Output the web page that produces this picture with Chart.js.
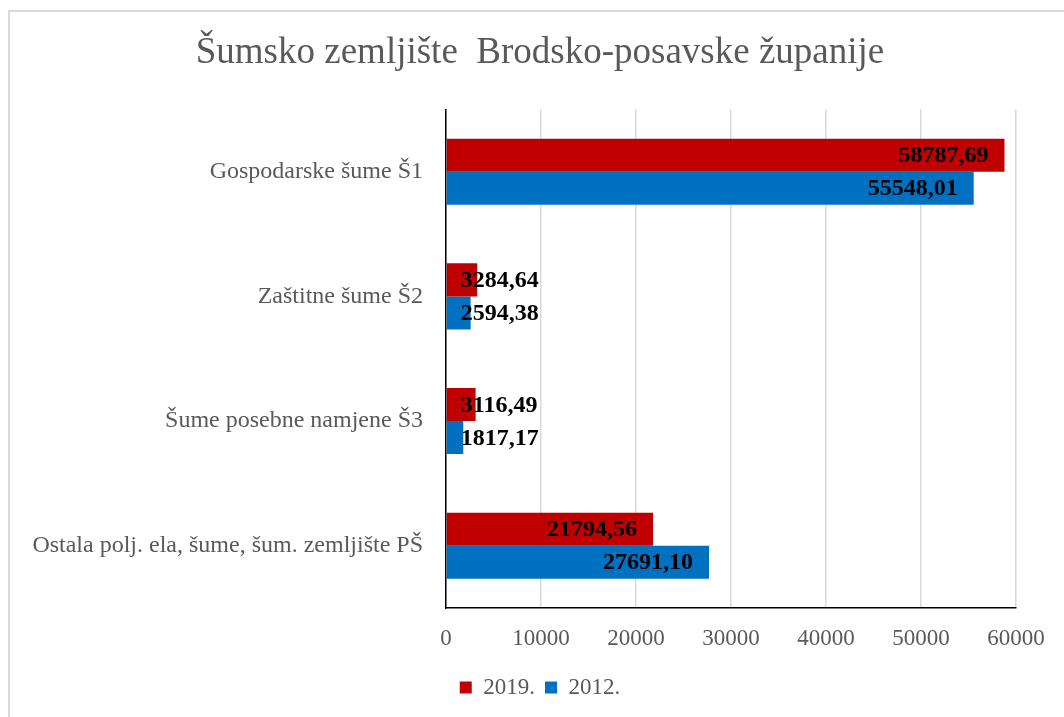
<!DOCTYPE html>
<html>
<head>
<meta charset="utf-8">
<script src="https://cdn.jsdelivr.net/npm/chart.js@4"></script>
<style>
    html, body { margin: 0; padding: 0; background: #fff; overflow: hidden; }
    .frame {
        position: absolute; left: 8px; top: 10px;
        width: 1100px; height: 760px;
        border: 2px solid #d9d9d9;
    }
    .chart-box { position: absolute; left: 0; top: 0; width: 1064px; height: 717px; }
</style>
</head>
<body>
<div class="frame"></div>
<div class="chart-box"><canvas id="forestChart" width="1064" height="717"></canvas></div>
<script>
// kategorije i vrijednosti (ha)
const categories = [
    'Gospodarske šume Š1',
    'Zaštitne šume Š2',
    'Šume posebne namjene Š3',
    'Ostala polj. ela, šume, šum. zemljište PŠ'
];
const values2019 = [58787.69, 3284.64, 3116.49, 21794.56];
const values2012 = [55548.01, 2594.38, 1817.17, 27691.10];
const xTicks = [0, 10000, 20000, 30000, 40000, 50000, 60000];

const serif = '"Liberation Serif", "Times New Roman", serif';
const grey = '#595959';

function fmt(v) {
    return v.toFixed(2).replace('.', ',');
}

// labels like Excel "inside end", pushed right when the bar is too short
const barLabels = {
    id: 'barLabels',
    afterDatasetsDraw(chart) {
        const ctx = chart.ctx;
        ctx.save();
        ctx.font = 'bold 24px ' + serif;
        ctx.fillStyle = '#000';
        ctx.textBaseline = 'middle';
        ctx.textAlign = 'left';
        chart.data.datasets.forEach((ds, i) => {
            chart.getDatasetMeta(i).data.forEach((bar, j) => {
                const text = fmt(ds.data[j]);
                const w = ctx.measureText(text).width;
                const tx = Math.max(bar.x - 16 - w, bar.base + 14);
                ctx.fillText(text, tx, bar.y + 1);
            });
        });
        ctx.restore();
    }
};

// title and legend are centred on the whole frame, not on the padded area
const centreBlocks = {
    id: 'centreBlocks',
    afterLayout(chart) {
        [chart.titleBlock, chart.legend].forEach(b => {
            if (b) { b.left = 0; b.right = 1080; b.width = 1080; }
        });
    }
};

new Chart(document.getElementById('forestChart'), {
    type: 'bar',
    data: {
        labels: categories,
        datasets: [
            {
                label: '2019.',
                data: values2019,
                backgroundColor: '#C00000',
                categoryPercentage: 0.53,
                barPercentage: 1.0
            },
            {
                label: '2012.',
                data: values2012,
                backgroundColor: '#0070C0',
                categoryPercentage: 0.53,
                barPercentage: 1.0
            }
        ]
    },
    options: {
        indexAxis: 'y',
        responsive: false,
        animation: false,
        layout: { padding: { left: 0, right: 48, top: 0, bottom: 8 } },
        plugins: {
            title: {
                display: true,
                text: 'Šumsko zemljište  Brodsko-posavske županije',
                color: grey,
                font: { family: serif, size: 37, weight: 'normal' },
                padding: { top: 31, bottom: 34 }
            },
            legend: {
                position: 'bottom',
                labels: {
                    color: grey,
                    font: { family: serif, size: 23 },
                    boxWidth: 12,
                    boxHeight: 12,
                    padding: 10
                }
            },
            tooltip: { enabled: false }
        },
        scales: {
            x: {
                min: 0,
                max: 60000,
                afterBuildTicks: (scale) => {
                    scale.ticks = xTicks.map(v => ({ value: v }));
                },
                afterFit: (scale) => { scale.height = 58; },
                grid: { color: '#d9d9d9', lineWidth: 1.5, drawTicks: false },
                border: { display: true, color: '#000', width: 1.5 },
                ticks: {
                    color: grey,
                    padding: 17,
                    font: { family: serif, size: 23 },
                    callback: (v) => String(v)
                }
            },
            y: {
                afterFit: (scale) => { scale.width = 446; },
                grid: { display: false, drawTicks: false },
                border: { display: true, color: '#000', width: 1.5 },
                ticks: {
                    color: grey,
                    padding: 23,
                    font: { family: serif, size: 24 }
                }
            }
        }
    },
    plugins: [barLabels, centreBlocks]
});
</script>
</body>
</html>
